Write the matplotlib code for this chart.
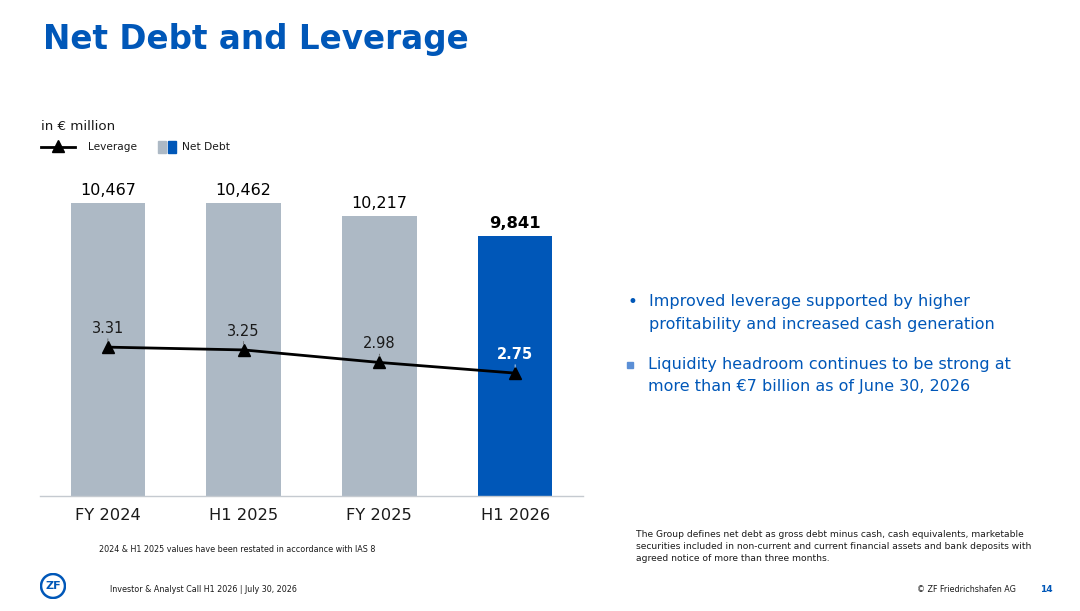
import matplotlib
matplotlib.use("Agg")
import matplotlib.pyplot as plt
from matplotlib.patches import Circle, Rectangle
from matplotlib.lines import Line2D

# ---- data ----
categories = ["FY 2024", "H1 2025", "FY 2025", "H1 2026"]
net_debt = [10467, 10462, 10217, 9841]
leverage = [3.31, 3.25, 2.98, 2.75]
net_debt_labels = ["10,467", "10,462", "10,217", "9,841"]
leverage_labels = ["3.31", "3.25", "2.98", "2.75"]

GRAY = "#adb9c5"
BLUE = "#0057b8"
TXT = "#1a1a1a"

plt.rcParams['font.family'] = ['DejaVu Sans']

W, H = 1080, 611
fig = plt.figure(figsize=(W / 100, H / 100), dpi=100)
fig.patch.set_facecolor("white")

def fx(px):
    return px / W

def fy(py):
    return 1 - py / H

# ---- chart axes ----
ax = fig.add_axes([fx(40), fy(496), fx(583) - fx(40), fy(170) - fy(496)])
x = list(range(len(categories)))
colors = [GRAY, GRAY, GRAY, BLUE]
ax.bar(x, net_debt, width=0.55, color=colors, zorder=1)
ax.set_xlim(-0.5, 3.5)
ax.set_ylim(4909, 11095)
ax.set_yticks([])
for s in ["top", "right", "left"]:
    ax.spines[s].set_visible(False)
ax.spines["bottom"].set_color("#c5cad0")
ax.spines["bottom"].set_linewidth(1.0)
ax.set_xticks(x)
ax.set_xticklabels(categories, fontsize=11.7, color=TXT)
ax.tick_params(axis="x", length=0, pad=9)

for i, (v, lab) in enumerate(zip(net_debt, net_debt_labels)):
    bold = i == len(net_debt) - 1
    ax.annotate(lab, xy=(i, v), xytext=(0, 4), textcoords="offset points",
                ha="center", va="bottom", fontsize=11.8 if bold else 11.5,
                fontweight="bold" if bold else "normal", color="black")

ax2 = ax.twinx()
ax2.set_ylim(0.1, 7.13)
ax2.set_yticks([])
for s in ["top", "right", "left", "bottom"]:
    ax2.spines[s].set_visible(False)
ax2.plot(x, leverage, color="black", linewidth=2.0, marker="^",
         markersize=8, zorder=3)
for i, (v, lab) in enumerate(zip(leverage, leverage_labels)):
    last = i == len(leverage) - 1
    ax2.annotate("", xy=(i, v), xytext=(0, 6), textcoords="offset points",
                 arrowprops=dict(arrowstyle="-", linestyle=(0, (1, 1)),
                                 color="white" if last else "#555555", lw=0.6,
                                 shrinkA=0, shrinkB=4))
    ax2.annotate(lab, xy=(i, v), xytext=(0, 8), textcoords="offset points",
                 ha="center", va="bottom", fontsize=10.5,
                 fontweight="bold" if last else "normal",
                 color="white" if last else TXT)

# ---- title and headers ----
fig.text(fx(43), fy(40), "Net Debt and Leverage", fontsize=23.5, fontweight="bold",
         color=BLUE, ha="left", va="center")
fig.text(fx(41), fy(126), "in € million", fontsize=9.6, color=TXT,
         ha="left", va="center")

# legend (manual)
fig.add_artist(Line2D([fx(41), fx(75)], [fy(147), fy(147)], color="black",
                      linewidth=2.0, transform=fig.transFigure))
fig.add_artist(Line2D([fx(58)], [fy(146)], marker="^", color="black",
                      markersize=8.5, transform=fig.transFigure))
fig.text(fx(88), fy(147), "Leverage", fontsize=7.6, color=TXT, ha="left", va="center")
fig.add_artist(Rectangle((fx(158), fy(153)), fx(8), fy(141) - fy(153),
                         color=GRAY, transform=fig.transFigure))
fig.add_artist(Rectangle((fx(168), fy(153)), fx(8), fy(141) - fy(153),
                         color=BLUE, transform=fig.transFigure))
fig.text(fx(182), fy(147), "Net Debt", fontsize=7.7, color=TXT, ha="left", va="center")

# bullets
fig.text(fx(627), fy(302), "•", fontsize=12, color=BLUE, ha="left", va="center")
fig.text(fx(649), fy(302), "Improved leverage supported by higher", fontsize=11.5,
         color=BLUE, ha="left", va="center")
fig.text(fx(649), fy(325), "profitability and increased cash generation", fontsize=11.5,
         color=BLUE, ha="left", va="center")
fig.add_artist(Rectangle((fx(627), fy(368)), fx(6), fy(362) - fy(368),
                         color="#5b8fd6", transform=fig.transFigure))
fig.text(fx(648), fy(365), "Liquidity headroom continues to be strong at", fontsize=11.5,
         color=BLUE, ha="left", va="center")
fig.text(fx(648), fy(387), "more than €7 billion as of June 30, 2026", fontsize=11.5,
         color=BLUE, ha="left", va="center")

# footnotes
fig.text(fx(99), fy(550), "2024 & H1 2025 values have been restated in accordance with IAS 8",
         fontsize=5.8, color=TXT, ha="left", va="center")
note = ("The Group defines net debt as gross debt minus cash, cash equivalents, marketable\n"
        "securities included in non-current and current financial assets and bank deposits with\n"
        "agreed notice of more than three months.")
fig.text(fx(636), fy(530), note, fontsize=6.6, color=TXT, ha="left", va="top",
         linespacing=1.45)
fig.text(fx(110), fy(589), "Investor & Analyst Call H1 2026 | July 30, 2026",
         fontsize=5.8, color=TXT, ha="left", va="center")
fig.text(fx(1016), fy(589), "© ZF Friedrichshafen AG", fontsize=5.8, color=TXT,
         ha="right", va="center")
fig.text(fx(1040), fy(589), "14", fontsize=6.5, fontweight="bold", color=BLUE,
         ha="left", va="center")

# logo
lax = fig.add_axes([fx(40), fy(599), fx(26), fy(573) - fy(599)])
lax.set_xlim(-1, 1)
lax.set_ylim(-1, 1)
lax.set_aspect("equal")
lax.axis("off")
lax.add_patch(Circle((0, 0), 0.92, fill=False, edgecolor=BLUE, linewidth=1.8))
lax.text(0, -0.02, "ZF", fontsize=8, fontweight="bold", color=BLUE,
         ha="center", va="center")

fig.savefig("out.png", dpi=100, facecolor="white")
